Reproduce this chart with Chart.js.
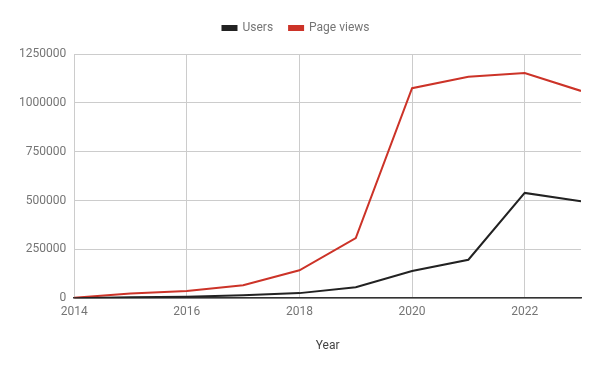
<!DOCTYPE html>
<html>
<head>
<meta charset="utf-8">
<script src="https://cdn.jsdelivr.net/npm/chart.js@4/dist/chart.umd.min.js"></script>
<style>
  html, body { margin: 0; padding: 0; background: #fff; }
  #wrap { width: 600px; height: 371px; }
</style>
</head>
<body>
<div id="wrap"><canvas id="myChart"></canvas></div>
<script>
var years = [2014, 2015, 2016, 2017, 2018, 2019, 2020, 2021, 2022, 2023];
var users = [0, 5000, 8000, 15000, 26000, 56000, 139000, 197000, 539000, 496000];
var pageViews = [2000, 24000, 37000, 66000, 143000, 308000, 1075000, 1133000, 1153000, 1061000];

function toPoints(vals) {
    return years.map(function (yr, i) { return { x: yr, y: vals[i] }; });
}

var ctx = document.getElementById("myChart");
var textColor = '#757575';

// extra space under the legend
var legendMargin = {
    id: 'legendMargin',
    beforeInit: function (chart) {
        var fit = chart.legend.fit;
        chart.legend.fit = function () {
            fit.bind(chart.legend)();
            this.height += 10;
        };
    }
};

var myChart = new Chart(ctx, {
    type: 'line',
    data: {
        datasets: [{
            label: 'Users',
            data: toPoints(users),
            borderColor: '#222222',
            backgroundColor: '#222222',
            borderWidth: 2,
            pointRadius: 0,
            tension: 0
        }, {
            label: 'Page views',
            data: toPoints(pageViews),
            borderColor: '#cc3328',
            backgroundColor: '#cc3328',
            borderWidth: 2,
            pointRadius: 0,
            tension: 0
        }]
    },
    options: {
        responsive: true,
        maintainAspectRatio: false,
        animation: false,
        layout: { padding: { left: 11, right: 19, top: 6, bottom: 14 } },
        plugins: {
            legend: {
                position: 'top',
                labels: {
                    font: { family: 'Roboto', size: 12 },
                    color: textColor,
                    boxWidth: 14,
                    boxHeight: 4,
                    padding: 16
                }
            },
            tooltip: { enabled: false }
        },
        scales: {
            x: {
                type: 'linear',
                min: 2014,
                max: 2023,
                ticks: {
                    stepSize: 2,
                    includeBounds: false,
                    color: textColor,
                    font: { family: 'Roboto', size: 12 },
                    padding: 7,
                    maxRotation: 0,
                    callback: function (v) { return String(v); }
                },
                grid: { color: '#cccccc', drawTicks: false },
                border: { color: '#333333', width: 1.5 },
                title: {
                    display: true,
                    text: 'Year',
                    color: '#444444',
                    font: { family: 'Roboto', size: 12 },
                    padding: { top: 12 }
                }
            },
            y: {
                min: 0,
                max: 1250000,
                ticks: {
                    stepSize: 250000,
                    color: textColor,
                    font: { family: 'Roboto', size: 12 },
                    padding: 8,
                    callback: function (v) { return String(v); }
                },
                grid: { color: '#cccccc', drawTicks: false },
                border: { display: false }
            }
        }
    },
    plugins: [legendMargin]
});
</script>
</body>
</html>
